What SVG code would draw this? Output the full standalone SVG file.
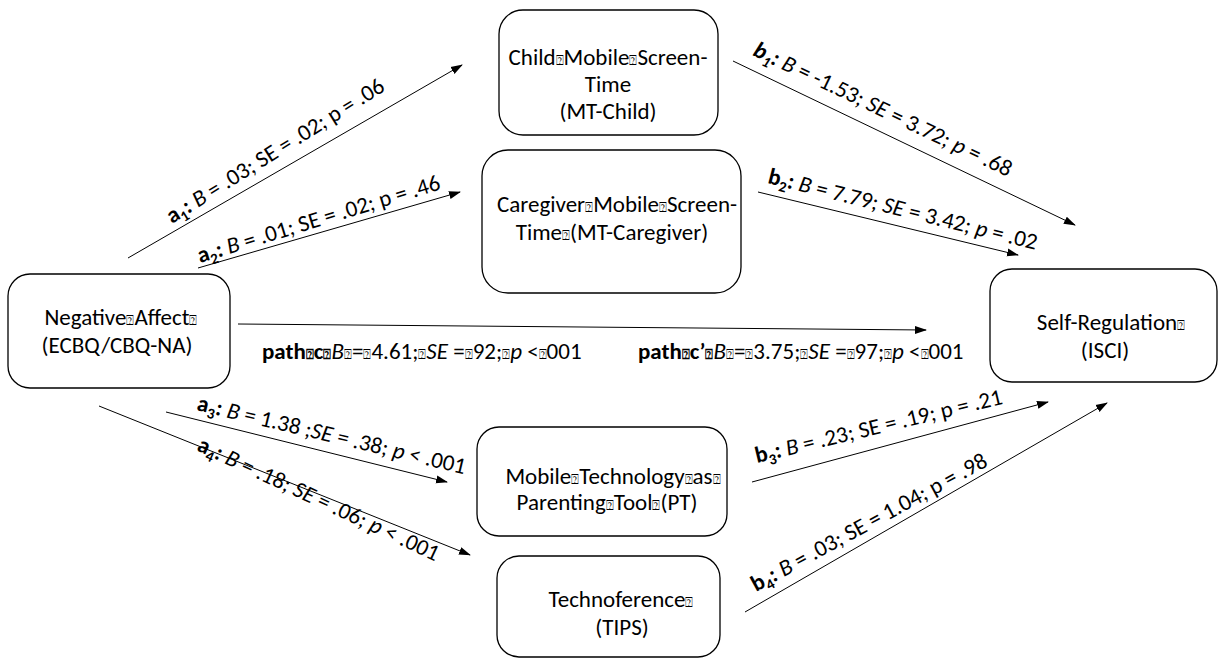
<svg xmlns="http://www.w3.org/2000/svg" width="1220" height="660" viewBox="0 0 1220 660">
  <style>
    .box { fill: #ffffff; stroke: #000000; stroke-width: 1.3; }
    .node { font-family: Carlito, Lato, "Liberation Sans", sans-serif; font-size: 23px; fill: #000000; text-anchor: middle; }
    .lbl { font-family: Carlito, Lato, "Liberation Sans", sans-serif; font-size: 23px; fill: #000000; }
    .edge { stroke: #000000; stroke-width: 1; fill: none; marker-end: url(#arrow); }
    .b { font-weight: bold; }
    .i { font-style: italic; }
    .q { font-family: "DejaVu Sans", sans-serif; font-size: 13px; }
  </style>
  <defs>
    <marker id="arrow" markerUnits="userSpaceOnUse" markerWidth="12" markerHeight="10" viewBox="0 0 12 10" refX="11" refY="5" orient="auto">
      <path d="M0,1 L12,5 L0,9 Z" fill="#000000"/>
    </marker>
  </defs>

  <!-- connectors -->
  <g id="connectors">
    <line class="edge" x1="128" y1="258" x2="462" y2="65"/>
    <line class="edge" x1="198" y1="268" x2="460" y2="192"/>
    <line class="edge" x1="733" y1="61" x2="1075" y2="225"/>
    <line class="edge" x1="758" y1="192" x2="1018" y2="255"/>
    <line class="edge" x1="238" y1="324" x2="926" y2="330"/>
    <line class="edge" x1="166" y1="412" x2="447" y2="482"/>
    <line class="edge" x1="99" y1="406" x2="470" y2="555"/>
    <line class="edge" x1="752" y1="482" x2="1048" y2="402"/>
    <line class="edge" x1="745" y1="612" x2="1107" y2="403"/>

    <!-- path coefficients -->
    <text class="lbl" transform="translate(172,224) rotate(-32)"><tspan class="b">a<tspan dy="5" font-size="15">1</tspan><tspan dy="-5">:</tspan></tspan> <tspan class="i">B</tspan> = .03; SE = .02; p = .06</text>
    <text class="lbl" transform="translate(200,263) rotate(-17)"><tspan class="b">a<tspan dy="5" font-size="15">2</tspan><tspan dy="-5">:</tspan></tspan> <tspan class="i">B</tspan> = .01; SE = .02; p = .46</text>
    <text class="lbl" transform="translate(752,55) rotate(25.5)"><tspan class="b i">b<tspan dy="5" font-size="15">1</tspan><tspan dy="-5">:</tspan></tspan> <tspan class="i">B</tspan> = -1.53; <tspan class="i">SE</tspan> = 3.72; <tspan class="i">p</tspan> = .68</text>
    <text class="lbl" transform="translate(767,183) rotate(14)"><tspan class="b">b<tspan dy="5" font-size="15">2</tspan><tspan dy="-5">:</tspan></tspan> <tspan class="i">B</tspan> = 7.79; <tspan class="i">SE</tspan> = 3.42; <tspan class="i">p</tspan> = .02</text>
    <text class="lbl" transform="translate(196,410) rotate(13.5)"><tspan class="b">a<tspan dy="5" font-size="15">3</tspan><tspan dy="-5">:</tspan></tspan> <tspan class="i">B</tspan> = 1.38 ;<tspan class="i">SE</tspan> = .38; <tspan class="i">p</tspan> &lt; .001</text>
    <text class="lbl" transform="translate(196,450) rotate(25)"><tspan class="b">a<tspan dy="5" font-size="15">4</tspan><tspan dy="-5">:</tspan></tspan> <tspan class="i">B</tspan> = .18; <tspan class="i">SE</tspan> = .06; <tspan class="i">p</tspan> &lt; .001</text>
    <text class="lbl" transform="translate(757,463) rotate(-13.5)"><tspan class="b">b<tspan dy="5" font-size="15">3</tspan><tspan dy="-5">:</tspan></tspan> <tspan class="i">B</tspan> = .23; SE = .19; p = .21</text>
    <text class="lbl" transform="translate(756,592) rotate(-28.5)"><tspan class="b">b<tspan dy="5" font-size="15">4</tspan><tspan dy="-5">:</tspan></tspan> <tspan class="i">B</tspan> = .03; SE = 1.04; p = .98</text>

    <text class="lbl" x="262" y="359"><tspan class="b">path<tspan class="q">⍰</tspan>c<tspan class="q">⍰</tspan></tspan><tspan class="i">B</tspan><tspan class="q">⍰</tspan>=<tspan class="q">⍰</tspan>4.61;<tspan class="q">⍰</tspan><tspan class="i">SE</tspan> =<tspan class="q">⍰</tspan>92;<tspan class="q">⍰</tspan><tspan class="i">p</tspan> &lt;<tspan class="q">⍰</tspan>001</text>
    <text class="lbl" x="638" y="359"><tspan class="b">path<tspan class="q">⍰</tspan>c’<tspan class="q">⍰</tspan></tspan><tspan class="i">B</tspan><tspan class="q">⍰</tspan>=<tspan class="q">⍰</tspan>3.75;<tspan class="q">⍰</tspan><tspan class="i">SE</tspan> =<tspan class="q">⍰</tspan>97;<tspan class="q">⍰</tspan><tspan class="i">p</tspan> &lt;<tspan class="q">⍰</tspan>001</text>
  </g>

  <g id="negative-affect">
    <rect class="box" x="8" y="274" width="222" height="114" rx="22"/>
    <text class="node" x="121" y="325">Negative<tspan class="q">⍰</tspan>Affect<tspan class="q">⍰</tspan></text>
    <text class="node" x="117" y="353">(ECBQ/CBQ-NA)</text>
  </g>

  <g id="mt-child">
    <rect class="box" x="499" y="10" width="219" height="125" rx="24"/>
    <text class="node" x="608" y="65">Child<tspan class="q">⍰</tspan>Mobile<tspan class="q">⍰</tspan>Screen-</text>
    <text class="node" x="608" y="92">Time</text>
    <text class="node" x="608" y="119">(MT-Child)</text>
  </g>

  <g id="mt-caregiver">
    <rect class="box" x="482" y="150" width="259" height="143" rx="26"/>
    <text class="node" x="617" y="212">Caregiver<tspan class="q">⍰</tspan>Mobile<tspan class="q">⍰</tspan>Screen-</text>
    <text class="node" x="612" y="240">Time<tspan class="q">⍰</tspan>(MT-Caregiver)</text>
  </g>

  <g id="self-regulation">
    <rect class="box" x="990" y="269" width="227" height="113" rx="22"/>
    <text class="node" x="1111" y="330">Self-Regulation<tspan class="q">⍰</tspan></text>
    <text class="node" x="1105" y="358">(ISCI)</text>
  </g>

  <g id="parenting-tool">
    <rect class="box" x="477" y="427" width="250" height="109" rx="22"/>
    <text class="node" x="613" y="484">Mobile<tspan class="q">⍰</tspan>Technology<tspan class="q">⍰</tspan>as<tspan class="q">⍰</tspan></text>
    <text class="node" x="607" y="510">Parenting<tspan class="q">⍰</tspan>Tool<tspan class="q">⍰</tspan>(PT)</text>
  </g>

  <g id="technoference">
    <rect class="box" x="497" y="556" width="223" height="101" rx="22"/>
    <text class="node" x="621" y="607">Technoference<tspan class="q">⍰</tspan></text>
    <text class="node" x="622" y="635">(TIPS)</text>
  </g>
</svg>
